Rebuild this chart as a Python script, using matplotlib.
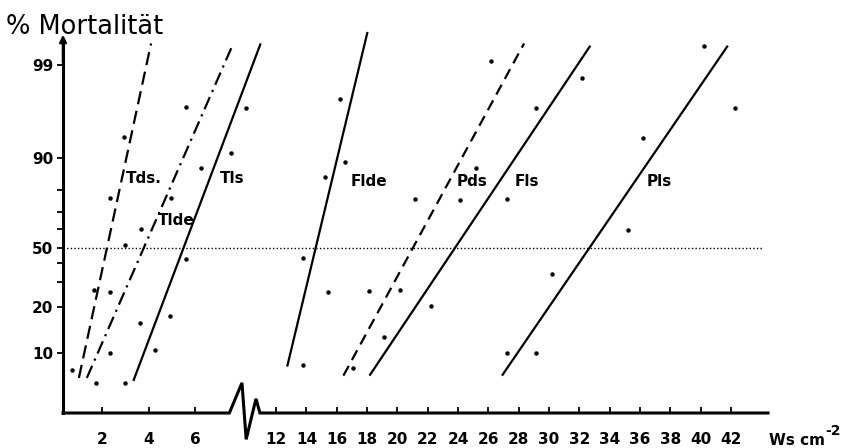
import numpy as np
import matplotlib
matplotlib.use("Agg")
import matplotlib.pyplot as plt

# hand drawn probit-like scale of the original: percent -> height (px above the 50 % line)
pct_anchor = [0.3, 1, 2, 5, 10, 20, 30, 40, 50, 60, 70, 80, 90, 95, 99, 99.5, 99.9]
pos_anchor = [-258, -214, -186, -143, -105, -59, -34, -15, 0, 19, 36, 58, 90, 122, 183, 205, 251]

# broken dose axis: 0..8.8 drawn wide, 11..44.5 drawn narrow
x_anchor = [0, 8.8, 11, 44.5]
u_anchor = [55, 262.7, 263, 776]

# fitted lines (start / end)
lines = {
    "Tds":  ([1.02, 4.11], [6.7, 99.5]),
    "Tlde": ([1.36, 7.63], [6.7, 99.5]),
    "Tls":  ([3.35, 8.98], [6.3, 99.5]),
    "Flde": ([12.73, 18.03], [8.2, 99.6]),
    "Pds":  ([16.44, 28.36], [7.0, 99.5]),
    "Fls":  ([18.16, 32.73], [7.0, 99.45]),
    "Pls":  ([26.9, 41.8], [7.0, 99.45]),
}
styles = {
    "Tds": (0, (6, 3)),
    "Tlde": (0, (6, 2.5, 1, 2.5)),
    "Tls": "-",
    "Flde": "-",
    "Pds": (0, (5, 3)),
    "Fls": "-",
    "Pls": "-",
}

# measured points
dot_x = [0.72, 1.74, 3.0, 2.37, 4.28, 1.65, 2.37, 3.64, 4.92, 3.0, 3.69, 5.59,
         2.37, 4.96, 6.23, 7.54, 8.18, 5.59, 2.97,
         16.24, 16.57, 15.25, 13.79, 15.4, 13.79, 17.1, 18.1, 19.1, 20.15, 21.14,
         22.2, 24.1, 25.2, 26.2, 27.2, 27.2, 29.15, 29.15, 30.2, 32.2, 35.2,
         36.2, 40.2, 42.3]
dot_y = [7.8, 6.05, 6.05, 10.0, 10.6, 26.8, 26.0, 16.5, 18.0, 51.6, 60.0, 42.4,
         76.4, 76.4, 86.9, 90.8, 96.2, 96.3, 93.4,
         96.8, 88.75, 84.0, 43.5, 26.0, 8.4, 8.0, 26.4, 13.5, 26.8, 75.9,
         20.2, 75.5, 86.9, 99.1, 75.9, 10.0, 10.0, 96.2, 34.1, 98.2, 59.5,
         93.1, 99.45, 96.2]

labels = ["Tds.", "Tlde", "Tls", "Flde", "Pds", "Fls", "Pls"]
label_x = [3.81, 5.17, 7.6, 18.1, 24.9, 28.56, 37.3]
label_y = [83.7, 65.3, 83.7, 82.8, 82.8, 82.8, 82.8]

y_major = [10, 20, 50, 90, 99]
y_minor = [30, 40, 60, 70, 80]
x_ticks = [2, 4, 6, 12, 14, 16, 18, 20, 22, 24, 26, 28, 30, 32, 34, 36, 38, 40, 42]


def yf(p):
    return np.interp(p, pct_anchor, pos_anchor)


def yi(v):
    return np.interp(v, pos_anchor, pct_anchor)


def xf(x):
    return np.interp(x, x_anchor, u_anchor)


def xi(u):
    return np.interp(u, u_anchor, x_anchor)


def main():
    plt.rcParams['font.family'] = ['DejaVu Sans']
    fig = plt.figure(figsize=(8.42, 4.48), dpi=100)
    ax = fig.add_axes([63 / 842, 1 - 413 / 448, (768 - 63) / 842, (413 - 40) / 448])
    ax.set_xscale('function', functions=(xf, xi))
    ax.set_yscale('function', functions=(yf, yi))
    x0, x1 = 0.34, 44.45
    y0, y1 = 3.45, 99.53
    ax.set_xlim(x0, x1)
    ax.set_ylim(y0, y1)

    # lines
    for name, (lx, ly) in lines.items():
        ax.plot(lx, ly, color='black', lw=1.6, linestyle=styles[name],
                solid_capstyle='butt', clip_on=False)
    ax.plot(dot_x, dot_y, 'o', color='black', ms=2.2, clip_on=False)
    ax.plot([x0, 44.1], [50, 50], color='black', lw=1.0, linestyle=(0, (1, 1.6)))

    for t, lx, ly in zip(labels, label_x, label_y):
        ax.text(lx, ly, t, fontsize=11, fontweight='bold', ha='center', va='center')

    # spines / ticks
    for s in ['top', 'right', 'bottom']:
        ax.spines[s].set_visible(False)
    ax.spines['left'].set_linewidth(2.2)
    ax.set_yticks(y_major)
    ax.set_yticklabels([str(v) for v in y_major], fontsize=11, fontweight='bold')
    ax.set_yticks(y_minor, minor=True)
    ax.tick_params(axis='y', which='both', direction='out', length=4, width=1.3, pad=3)
    ax.set_xticks(x_ticks)
    ax.set_xticklabels([str(v) for v in x_ticks], fontsize=11, fontweight='bold')
    ax.tick_params(axis='x', direction='in', length=4, width=1.3, pad=14)
    ax.xaxis.set_minor_locator(matplotlib.ticker.NullLocator())
    ax.yaxis.set_minor_formatter(matplotlib.ticker.NullFormatter())

    # arrow on the y axis
    ax.annotate('', xy=(x0, 99.6), xytext=(x0, 99.0),
                arrowprops=dict(arrowstyle='-|>', color='black', lw=1.8,
                                mutation_scale=10), annotation_clip=False)

    # base line with the axis break
    bx = [x0, 7.46, 8.0, 8.18, 8.6, 8.77, 11.0, x1]
    by = [y0, y0, 6.05, 1.8, 4.44, y0, y0, y0]
    ax.plot(bx, by, color='black', lw=2.2, clip_on=False, solid_joinstyle='miter')

    fig.text(6 / 842, 1 - 27 / 448, '% Mortalität', fontsize=18.5, va='center', ha='left')
    fig.text(769 / 842, 1 - 440 / 448, 'Ws cm', fontsize=11,
             fontweight='bold', va='center', ha='left')
    fig.text(825 / 842, 1 - 431 / 448, '-2', fontsize=10,
             fontweight='bold', va='center', ha='left')

    fig.savefig('out.png', dpi=100)


if __name__ == "__main__":
    main()
